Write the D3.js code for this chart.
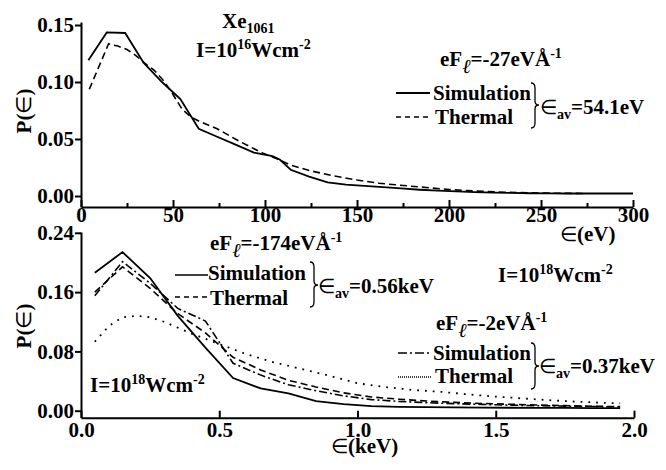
<!DOCTYPE html>
<html><head><meta charset="utf-8">
<script src="https://cdn.jsdelivr.net/npm/d3@7"></script>
<style>
html,body{margin:0;padding:0;background:#fff;}
svg{display:block;}
</style></head>
<body>
<svg id="chart" width="666" height="470"></svg>
<script>
// ---------------- DATA ----------------
// Top panel (I=1e16 W/cm^2, eF=-27 eV/Å), energy in eV
const topSimEnergy = [4,14,24,34,44,54,64,74,84,94,104,108,114,124,134,144,154,164,174,184,194,204,214,224,234,244,254,264,274,284,300];
const topSimValues = [0.119,0.1435,0.143,0.117,0.100,0.085,0.059,0.052,0.045,0.038,0.035,0.032,0.023,0.017,0.012,0.010,0.0088,0.0078,0.0066,0.0055,0.0047,0.0040,0.0034,0.0030,0.0027,0.0024,0.0023,0.0022,0.0022,0.0022,0.0022];
const topThermEnergy = [4.5,15,20,25,30,35,40,45,50,55,60,65,74,86,99,106,114,125,137,150,162,171,185,200,215,230,245,260,273];
const topThermValues = [0.0936,0.1335,0.1315,0.1285,0.123,0.116,0.110,0.101,0.089,0.076,0.069,0.065,0.059,0.048,0.0374,0.033,0.027,0.022,0.0178,0.014,0.0112,0.0098,0.0078,0.0057,0.0043,0.0033,0.0027,0.0024,0.0022];
const topXTicks = [0,50,100,150,200,250,300];
const topXMinorTicks = [25,75,125,175,225,275];
const topYTicks = [0.00,0.05,0.10,0.15];

// Bottom panel (I=1e18 W/cm^2), energy in keV
const bottomEnergy = [0.05,0.15,0.25,0.35,0.45,0.55,0.65,0.75,0.85,0.95,1.05,1.15,1.25,1.35,1.45,1.55,1.65,1.75,1.85,1.95];
const sim174Values   = [0.186,0.214,0.179,0.128,0.085,0.044,0.030,0.0235,0.013,0.0088,0.0063,0.0052,0.0047,0.0044,0.0042,0.0040,0.0038,0.0037,0.0036,0.0035];
const therm174Values = [0.160,0.194,0.165,0.131,0.105,0.072,0.055,0.041,0.032,0.024,0.0185,0.0155,0.013,0.0112,0.0098,0.0087,0.0077,0.0068,0.0060,0.0055];
const sim2Values     = [0.155,0.201,0.172,0.138,0.121,0.064,0.048,0.035,0.027,0.020,0.0150,0.0125,0.0108,0.0095,0.0085,0.0075,0.0068,0.0062,0.0056,0.0052];
const therm2Energy = [0.05,0.10,0.15,0.20,0.25,0.30,0.35,0.40,0.50,0.60,0.70,0.80,0.90,1.00,1.10,1.20,1.30,1.40,1.50,1.60,1.70,1.80,1.90,1.95];
const therm2Values = [0.093,0.114,0.126,0.128,0.126,0.120,0.112,0.104,0.090,0.076,0.065,0.056,0.047,0.037,0.032,0.028,0.0255,0.022,0.019,0.0165,0.014,0.012,0.0105,0.010];
const bottomXTicks = [0.0,0.5,1.0,1.5,2.0];
const bottomYTicks = [0.00,0.08,0.16,0.24];

// ---------------- DRAWING ----------------
const FONT = "'Liberation Serif','Times New Roman',serif";
const svg = d3.select("#chart");
svg.append("rect").attr("width",666).attr("height",470).attr("fill","#fff");

function richText(x, y, parts, size) {
  size = size || 21;
  const t = svg.append("text").attr("x",x).attr("y",y)
    .attr("font-family",FONT).attr("font-weight","bold").attr("font-size",size).attr("fill","#000");
  let off = 0;
  parts.forEach(p => {
    const [txt, type] = p;
    let target = 0, fs = size, fw = "bold", fst = "normal";
    if (type === "sup") { target = -8; fs = 14; }
    else if (type === "sub") { target = 5; fs = 14; }
    else if (type === "ell") { target = 7; fs = 20; fw = "normal"; fst = "italic"; }
    else if (type === "elem") { fw = "normal"; fs = 20; }
    t.append("tspan").attr("dy", target - off).attr("font-size",fs)
      .attr("font-weight",fw).attr("font-style",fst).text(txt);
    off = target;
  });
  return t;
}

function brace(x, y0, y1, ym, w) {
  const hx = x + w/2;
  const p = `M${x},${y0} Q${hx},${y0} ${hx},${y0+5} L${hx},${ym-4} Q${hx},${ym} ${x+w},${ym} Q${hx},${ym} ${hx},${ym+4} L${hx},${y1-5} Q${hx},${y1} ${x},${y1}`;
  svg.append("path").attr("d",p).attr("fill","none").attr("stroke","#000").attr("stroke-width",1.3);
}

function styleAxis(g) {
  g.selectAll("path.domain").attr("stroke","#000").attr("stroke-width",2);
  g.selectAll(".tick line").attr("stroke","#000").attr("stroke-width",2);
  g.selectAll(".tick text").attr("font-family",FONT).attr("font-weight","bold").attr("font-size",21).attr("fill","#000");
}

// ---- Top panel ----
const xTop = d3.scaleLinear().domain([0,300]).range([81,633]);
const yTop = d3.scaleLinear().domain([0,0.15]).range([196,25]);
const topAxisY = 207, topAxisTopVal = yTop.invert(22), topAxisBotVal = yTop.invert(207);

const gxTop = svg.append("g").attr("transform",`translate(0,${topAxisY})`)
  .call(d3.axisBottom(xTop).tickValues(topXTicks).tickSizeInner(-7).tickSizeOuter(0).tickPadding(0).tickFormat(d3.format("d")));
styleAxis(gxTop);
gxTop.selectAll(".tick text").attr("dy","0.71em");
const gxTopMinor = svg.append("g").attr("transform",`translate(0,${topAxisY})`)
  .call(d3.axisBottom(xTop).tickValues(topXMinorTicks).tickSizeInner(-4).tickSizeOuter(0).tickFormat(""));
styleAxis(gxTopMinor);
gxTopMinor.select("path.domain").remove();

const yTopAxisScale = yTop.copy().domain([topAxisBotVal, topAxisTopVal]).range([207,22]);
const gyTop = svg.append("g").attr("transform","translate(81,0)")
  .call(d3.axisLeft(yTopAxisScale).tickValues(topYTicks).tickSizeInner(6).tickSizeOuter(0).tickPadding(1).tickFormat(d3.format(".2f")));
styleAxis(gyTop);

const lineTopSim = d3.line().x((d,i)=>xTop(topSimEnergy[i])).y(d=>yTop(d));
const lineTopTh = d3.line().x((d,i)=>xTop(topThermEnergy[i])).y(d=>yTop(d));
svg.append("path").datum(topSimValues).attr("d",lineTopSim).attr("fill","none").attr("stroke","#000").attr("stroke-width",1.8);
svg.append("path").datum(topThermValues).attr("d",lineTopTh).attr("fill","none").attr("stroke","#000").attr("stroke-width",1.6).attr("stroke-dasharray","7,4");

// Top texts
richText(222, 28, [["Xe"],["1061","sub"]]);
richText(196, 57, [["I=10"],["16","sup"],["Wcm"],["-2","sup"]]);
richText(440, 66, [["eF"],["ℓ","ell"],["=-27eVÅ"],["-1","sup"]]);
svg.append("line").attr("x1",396).attr("x2",430).attr("y1",93).attr("y2",93).attr("stroke","#000").attr("stroke-width",1.8);
svg.append("line").attr("x1",396).attr("x2",431).attr("y1",117).attr("y2",117).attr("stroke","#000").attr("stroke-width",1.6).attr("stroke-dasharray","5,4");
richText(433, 100, [["Simulation"]]);
richText(435, 124, [["Thermal"]]);
brace(531, 83, 128, 105, 8);
richText(540, 114, [["∈","elem"],["av","sub"],["=54.1eV"]]);
richText(560, 241, [["∈","elem"],["(eV)"]]);
svg.append("text").attr("transform","translate(31,111) rotate(-90)").attr("text-anchor","middle")
  .attr("font-family",FONT).attr("font-weight","bold").attr("font-size",21)
  .selectAll("tspan").data([["P(",null],["∈","normal"],[")",null]]).join("tspan")
  .attr("font-weight",d=>d[1]||"bold").text(d=>d[0]);

// ---- Bottom panel ----
const xBot = d3.scaleLinear().domain([0,2]).range([81,634]);
const yBot = d3.scaleLinear().domain([0,0.24]).range([410.7,232.8]);
const botAxisY = 417.7;

const gxBot = svg.append("g").attr("transform",`translate(0,${botAxisY})`)
  .call(d3.axisBottom(xBot).tickValues(bottomXTicks).tickSizeInner(-7).tickSizeOuter(0).tickPadding(4).tickFormat(d3.format(".1f")));
styleAxis(gxBot);
gxBot.selectAll(".tick text").attr("dy","0.71em");

const yBotAxisScale = yBot.copy().domain([yBot.invert(417.7), yBot.invert(232)]).range([417.7,232]);
const gyBot = svg.append("g").attr("transform","translate(81,0)")
  .call(d3.axisLeft(yBotAxisScale).tickValues(bottomYTicks).tickSizeInner(6).tickSizeOuter(0).tickPadding(1).tickFormat(d3.format(".2f")));
styleAxis(gyBot);

const lineBot = d3.line().x((d,i)=>xBot(bottomEnergy[i])).y(d=>yBot(d));
const lineBotTh2 = d3.line().x((d,i)=>xBot(therm2Energy[i])).y(d=>yBot(d));
svg.append("path").datum(therm2Values).attr("d",lineBotTh2).attr("fill","none").attr("stroke","#000").attr("stroke-width",1.8).attr("stroke-dasharray","1.8,6").attr("stroke-linecap","butt");
svg.append("path").datum(sim2Values).attr("d",lineBot).attr("fill","none").attr("stroke","#000").attr("stroke-width",1.6).attr("stroke-dasharray","8,3,2,3");
svg.append("path").datum(therm174Values).attr("d",lineBot).attr("fill","none").attr("stroke","#000").attr("stroke-width",1.6).attr("stroke-dasharray","7,4");
svg.append("path").datum(sim174Values).attr("d",lineBot).attr("fill","none").attr("stroke","#000").attr("stroke-width",1.8);

// Bottom texts
richText(210, 250, [["eF"],["ℓ","ell"],["=-174eVÅ"],["-1","sup"]]);
svg.append("line").attr("x1",175).attr("x2",208).attr("y1",275).attr("y2",275).attr("stroke","#000").attr("stroke-width",1.6);
svg.append("line").attr("x1",175).attr("x2",209).attr("y1",297).attr("y2",297).attr("stroke","#000").attr("stroke-width",1.6).attr("stroke-dasharray","5,4");
richText(208, 280, [["Simulation"]]);
richText(210, 305, [["Thermal"]]);
brace(310, 262, 307, 285, 8);
richText(318, 293, [["∈","elem"],["av","sub"],["=0.56keV"]]);
richText(498, 282, [["I=10"],["18","sup"],["Wcm"],["-2","sup"]]);

richText(436, 330, [["eF"],["ℓ","ell"],["=-2eVÅ"],["-1","sup"]]);
svg.append("line").attr("x1",398).attr("x2",431).attr("y1",353).attr("y2",353).attr("stroke","#000").attr("stroke-width",1.6).attr("stroke-dasharray","9,3,2,3");
svg.append("line").attr("x1",398).attr("x2",431).attr("y1",377).attr("y2",377).attr("stroke","#000").attr("stroke-width",1.4).attr("stroke-dasharray","1,1");
richText(433, 360, [["Simulation"]]);
richText(435, 383, [["Thermal"]]);
brace(531, 343, 389, 366, 8);
richText(539, 373, [["∈","elem"],["av","sub"],["=0.37keV"]]);
richText(90, 392, [["I=10"],["18","sup"],["Wcm"],["-2","sup"]]);
richText(331, 453, [["∈","elem"],["(keV)"]]);
svg.append("text").attr("transform","translate(31,326) rotate(-90)").attr("text-anchor","middle")
  .attr("font-family",FONT).attr("font-weight","bold").attr("font-size",21)
  .selectAll("tspan").data([["P(",null],["∈","normal"],[")",null]]).join("tspan")
  .attr("font-weight",d=>d[1]||"bold").text(d=>d[0]);
</script>
</body></html>
